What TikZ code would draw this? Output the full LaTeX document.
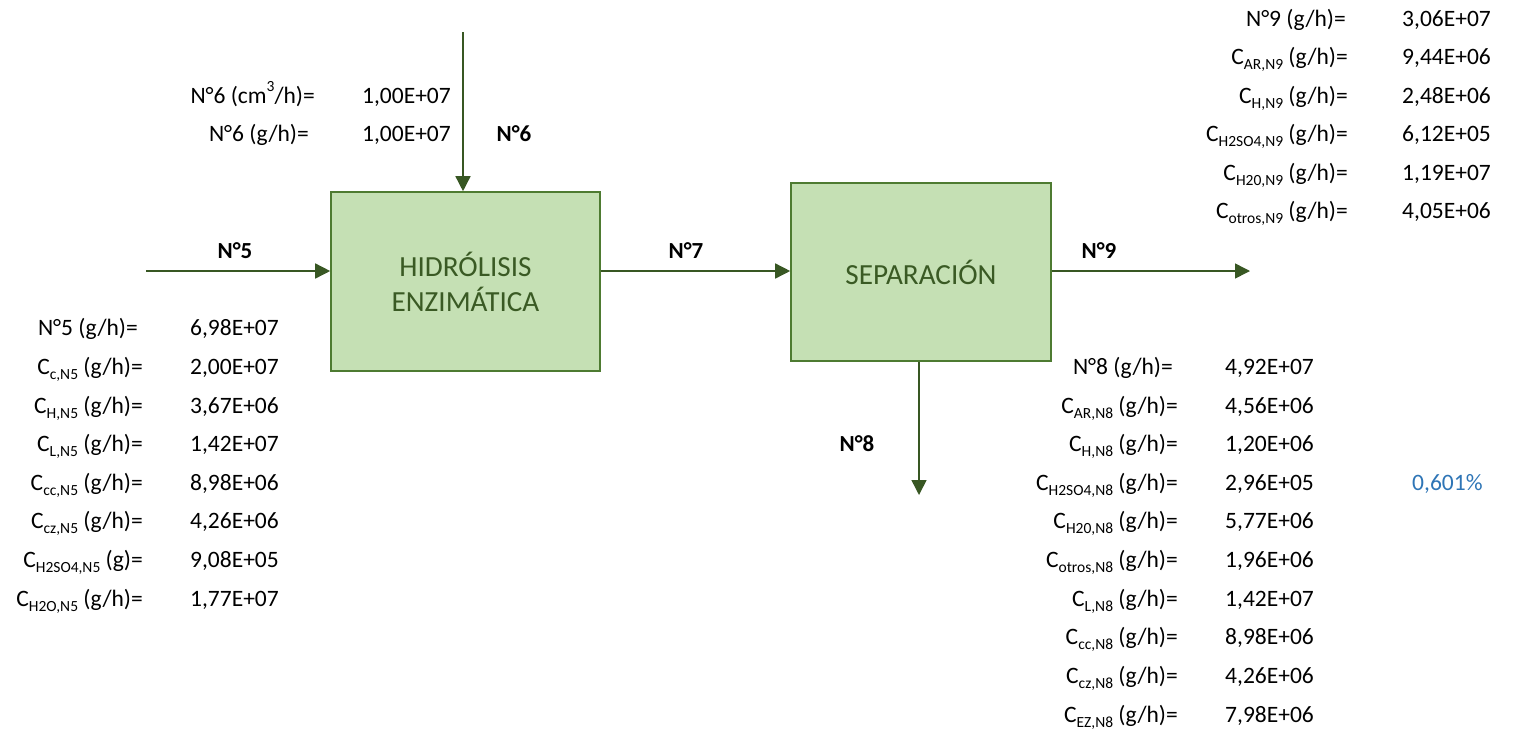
\documentclass[tikz,border=0pt]{standalone}
\usepackage{fontspec}
\setmainfont{Carlito}
\usetikzlibrary{arrows.meta}

\definecolor{flowgreen}{HTML}{385723}
\definecolor{boxfill}{HTML}{C5E0B4}
\definecolor{boxline}{HTML}{4E7B31}
\definecolor{boxtext}{HTML}{3A5A24}
\definecolor{pctblue}{HTML}{2E75B6}

% lowered, reduced index text
\newcommand\sbs[1]{\raisebox{-0.2em}{\fontsize{15.5}{16}\selectfont #1}}
\newcommand\sps[1]{\raisebox{0.5em}{\fontsize{15.5}{16}\selectfont #1}}

\begin{document}
\begin{tikzpicture}[x=1pt,y=-1pt,
  unit/.style={draw=boxline, line width=1.6pt, fill=boxfill, text=boxtext,
    font=\fontsize{29.2}{35}\selectfont, align=center, inner sep=0pt},
  flow/.style={draw=flowgreen, line width=1.5pt, -{Triangle[length=15pt,width=15pt]}},
  streamtag/.style={font=\fontsize{23}{27}\selectfont\bfseries, inner sep=0pt},
  lbl/.style={anchor=base east, font=\fontsize{23.5}{27}\selectfont, inner sep=0pt},
  val/.style={anchor=base west, font=\fontsize{23.5}{27}\selectfont, inner sep=0pt},
]
\useasboundingbox (0,0) rectangle (1517,729);

% process units
\node[unit, minimum width=269pt, minimum height=179pt] (hid) at (465.5,281.5) {HIDRÓLISIS\\ENZIMÁTICA};
\node[unit, minimum width=260pt, minimum height=178pt] (sep) at (921,272) {SEPARACIÓN};

% stream ends
\coordinate (in5) at (146,271);
\coordinate (in6) at (463,32);
\coordinate (out9) at (1250,271);
\coordinate (out8) at (919,495);

% streams
\draw[flow] (in5) -- (hid.west |- in5);
\draw[flow] (in6) -- (hid.north -| in6);
\draw[flow] (hid.east |- in5) -- (sep.west |- in5);
\draw[flow] (sep.east |- in5) -- (out9);
\draw[flow] (sep.south -| out8) -- (out8);

% stream tags
\node[streamtag] (t5) at (235,251) {N°5};
\node[streamtag] (t6) at (514,134) {N°6};
\node[streamtag] (t7) at (686,251) {N°7};
\node[streamtag] (t9) at (1099,251) {N°9};
\node[streamtag] (t8) at (857,444) {N°8};

% stream 6 data
\node[lbl] (n6l1) at (315,103.5) {N°6 (cm\sps{3}/h)=};
\node[val] (n6v1) at (362,103.5) {1,00E+07};
\node[lbl] (n6l2) at (309,141.5) {N°6 (g/h)=};
\node[val] (n6v2) at (362,141.5) {1,00E+07};

% stream 5 data
\foreach \y/\dx/\l/\v [count=\i] in {
  328/-5/{N°5 (g/h)=}/{6,98E+07},
  367/0/{C\sbs{c,N5} (g/h)=}/{2,00E+07},
  406/0/{C\sbs{H,N5} (g/h)=}/{3,67E+06},
  444/0/{C\sbs{L,N5} (g/h)=}/{1,42E+07},
  483/0/{C\sbs{cc,N5} (g/h)=}/{8,98E+06},
  521/0/{C\sbs{cz,N5} (g/h)=}/{4,26E+06},
  560/0/{C\sbs{H2SO4,N5} (g)=}/{9,08E+05},
  599/0/{C\sbs{H2O,N5} (g/h)=}/{1,77E+07}}{
  \node[lbl] (n5l\i) at (143+\dx,\y+7.5) {\l};
  \node[val] (n5v\i) at (190,\y+7.5) {\v};
}

% stream 9 data
\foreach \y/\dx/\l/\v [count=\i] in {
  19/-2/{N°9 (g/h)=}/{3,06E+07},
  57/0/{C\sbs{AR,N9} (g/h)=}/{9,44E+06},
  96/0/{C\sbs{H,N9} (g/h)=}/{2,48E+06},
  134/0/{C\sbs{H2SO4,N9} (g/h)=}/{6,12E+05},
  173/0/{C\sbs{H20,N9} (g/h)=}/{1,19E+07},
  211/0/{C\sbs{otros,N9} (g/h)=}/{4,05E+06}}{
  \node[lbl] (n9l\i) at (1348+\dx,\y+7.5) {\l};
  \node[val] (n9v\i) at (1402,\y+7.5) {\v};
}

% stream 8 data
\foreach \y/\dx/\l/\v [count=\i] in {
  367/-5/{N°8 (g/h)=}/{4,92E+07},
  406/0/{C\sbs{AR,N8} (g/h)=}/{4,56E+06},
  444/0/{C\sbs{H,N8} (g/h)=}/{1,20E+06},
  483/0/{C\sbs{H2SO4,N8} (g/h)=}/{2,96E+05},
  521/0/{C\sbs{H20,N8} (g/h)=}/{5,77E+06},
  560/0/{C\sbs{otros,N8} (g/h)=}/{1,96E+06},
  599/0/{C\sbs{L,N8} (g/h)=}/{1,42E+07},
  637/0/{C\sbs{cc,N8} (g/h)=}/{8,98E+06},
  676/0/{C\sbs{cz,N8} (g/h)=}/{4,26E+06},
  715/0/{C\sbs{EZ,N8} (g/h)=}/{7,98E+06}}{
  \node[lbl] (n8l\i) at (1178+\dx,\y+7.5) {\l};
  \node[val] (n8v\i) at (1225,\y+7.5) {\v};
}

\node[val, text=pctblue] (pct) at (1412,483+7.5) {0,601\%};
\end{tikzpicture}
\end{document}
